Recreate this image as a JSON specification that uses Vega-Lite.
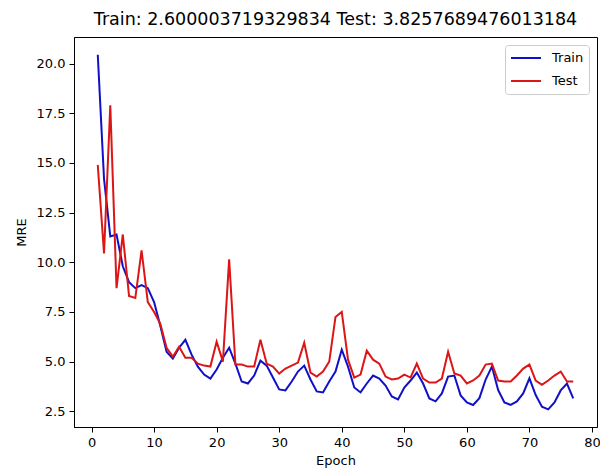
{
 "$schema": "https://vega.github.io/schema/vega-lite/v6.json",
 "width": 523,
 "height": 390,
 "autosize": {"type": "none"},
 "padding": {"left": 74, "top": 37, "right": 3, "bottom": 46},
 "background": "white",
 "title": {"text": "Train: 2.600003719329834 Test: 3.8257689476013184", "font": "DejaVu Sans", "fontSize": 17.5, "fontWeight": "normal", "color": "black", "anchor": "middle", "offset": 9},
 "config": {
  "view": {"stroke": "black", "strokeWidth": 1},
  "axis": {"grid": false, "domainColor": "black", "tickColor": "black", "tickSize": 5, "labelColor": "black", "labelFont": "DejaVu Sans", "labelFontSize": 13, "titleFont": "DejaVu Sans", "titleFontSize": 13, "titleFontWeight": "normal", "titleColor": "black", "labelPadding": 4}
 },
 "data": {"values": [
  {"epoch":1,"series":"Train","mre":20.45},{"epoch":2,"series":"Train","mre":14.2},{"epoch":3,"series":"Train","mre":11.3},{"epoch":4,"series":"Train","mre":11.4},{"epoch":5,"series":"Train","mre":9.8},{"epoch":6,"series":"Train","mre":9.0},{"epoch":7,"series":"Train","mre":8.7},{"epoch":8,"series":"Train","mre":8.85},{"epoch":9,"series":"Train","mre":8.7},{"epoch":10,"series":"Train","mre":8.0},
  {"epoch":11,"series":"Train","mre":6.8},{"epoch":12,"series":"Train","mre":5.5},{"epoch":13,"series":"Train","mre":5.15},{"epoch":14,"series":"Train","mre":5.7},{"epoch":15,"series":"Train","mre":6.1},{"epoch":16,"series":"Train","mre":5.35},{"epoch":17,"series":"Train","mre":4.75},{"epoch":18,"series":"Train","mre":4.35},{"epoch":19,"series":"Train","mre":4.15},{"epoch":20,"series":"Train","mre":4.6},
  {"epoch":21,"series":"Train","mre":5.2},{"epoch":22,"series":"Train","mre":5.7},{"epoch":23,"series":"Train","mre":4.9},{"epoch":24,"series":"Train","mre":4.0},{"epoch":25,"series":"Train","mre":3.9},{"epoch":26,"series":"Train","mre":4.3},{"epoch":27,"series":"Train","mre":5.05},{"epoch":28,"series":"Train","mre":4.8},{"epoch":29,"series":"Train","mre":4.2},{"epoch":30,"series":"Train","mre":3.6},
  {"epoch":31,"series":"Train","mre":3.55},{"epoch":32,"series":"Train","mre":4.0},{"epoch":33,"series":"Train","mre":4.5},{"epoch":34,"series":"Train","mre":4.8},{"epoch":35,"series":"Train","mre":4.1},{"epoch":36,"series":"Train","mre":3.5},{"epoch":37,"series":"Train","mre":3.45},{"epoch":38,"series":"Train","mre":4.0},{"epoch":39,"series":"Train","mre":4.5},{"epoch":40,"series":"Train","mre":5.6},
  {"epoch":41,"series":"Train","mre":4.75},{"epoch":42,"series":"Train","mre":3.7},{"epoch":43,"series":"Train","mre":3.45},{"epoch":44,"series":"Train","mre":3.9},{"epoch":45,"series":"Train","mre":4.3},{"epoch":46,"series":"Train","mre":4.15},{"epoch":47,"series":"Train","mre":3.8},{"epoch":48,"series":"Train","mre":3.25},{"epoch":49,"series":"Train","mre":3.1},{"epoch":50,"series":"Train","mre":3.7},
  {"epoch":51,"series":"Train","mre":4.05},{"epoch":52,"series":"Train","mre":4.45},{"epoch":53,"series":"Train","mre":3.9},{"epoch":54,"series":"Train","mre":3.15},{"epoch":55,"series":"Train","mre":3.0},{"epoch":56,"series":"Train","mre":3.4},{"epoch":57,"series":"Train","mre":4.25},{"epoch":58,"series":"Train","mre":4.3},{"epoch":59,"series":"Train","mre":3.3},{"epoch":60,"series":"Train","mre":2.95},
  {"epoch":61,"series":"Train","mre":2.82},{"epoch":62,"series":"Train","mre":3.16},{"epoch":63,"series":"Train","mre":4.1},{"epoch":64,"series":"Train","mre":4.75},{"epoch":65,"series":"Train","mre":3.57},{"epoch":66,"series":"Train","mre":2.95},{"epoch":67,"series":"Train","mre":2.82},{"epoch":68,"series":"Train","mre":3.0},{"epoch":69,"series":"Train","mre":3.4},{"epoch":70,"series":"Train","mre":4.16},
  {"epoch":71,"series":"Train","mre":3.32},{"epoch":72,"series":"Train","mre":2.73},{"epoch":73,"series":"Train","mre":2.6},{"epoch":74,"series":"Train","mre":2.95},{"epoch":75,"series":"Train","mre":3.55},{"epoch":76,"series":"Train","mre":3.9},{"epoch":77,"series":"Train","mre":3.15},
  {"epoch":1,"series":"Test","mre":14.9},{"epoch":2,"series":"Test","mre":10.45},{"epoch":3,"series":"Test","mre":17.9},{"epoch":4,"series":"Test","mre":8.7},{"epoch":5,"series":"Test","mre":11.4},{"epoch":6,"series":"Test","mre":8.3},{"epoch":7,"series":"Test","mre":8.2},{"epoch":8,"series":"Test","mre":10.6},{"epoch":9,"series":"Test","mre":8.0},{"epoch":10,"series":"Test","mre":7.5},
  {"epoch":11,"series":"Test","mre":6.9},{"epoch":12,"series":"Test","mre":5.7},{"epoch":13,"series":"Test","mre":5.25},{"epoch":14,"series":"Test","mre":5.75},{"epoch":15,"series":"Test","mre":5.2},{"epoch":16,"series":"Test","mre":5.2},{"epoch":17,"series":"Test","mre":4.9},{"epoch":18,"series":"Test","mre":4.8},{"epoch":19,"series":"Test","mre":4.75},{"epoch":20,"series":"Test","mre":6.0},
  {"epoch":21,"series":"Test","mre":5.0},{"epoch":22,"series":"Test","mre":10.15},{"epoch":23,"series":"Test","mre":4.85},{"epoch":24,"series":"Test","mre":4.85},{"epoch":25,"series":"Test","mre":4.75},{"epoch":26,"series":"Test","mre":4.75},{"epoch":27,"series":"Test","mre":6.1},{"epoch":28,"series":"Test","mre":4.9},{"epoch":29,"series":"Test","mre":4.75},{"epoch":30,"series":"Test","mre":4.4},
  {"epoch":31,"series":"Test","mre":4.65},{"epoch":32,"series":"Test","mre":4.8},{"epoch":33,"series":"Test","mre":4.95},{"epoch":34,"series":"Test","mre":5.95},{"epoch":35,"series":"Test","mre":4.45},{"epoch":36,"series":"Test","mre":4.25},{"epoch":37,"series":"Test","mre":4.5},{"epoch":38,"series":"Test","mre":5.0},{"epoch":39,"series":"Test","mre":7.25},{"epoch":40,"series":"Test","mre":7.5},
  {"epoch":41,"series":"Test","mre":5.1},{"epoch":42,"series":"Test","mre":4.2},{"epoch":43,"series":"Test","mre":4.35},{"epoch":44,"series":"Test","mre":5.55},{"epoch":45,"series":"Test","mre":5.1},{"epoch":46,"series":"Test","mre":4.9},{"epoch":47,"series":"Test","mre":4.25},{"epoch":48,"series":"Test","mre":4.1},{"epoch":49,"series":"Test","mre":4.15},{"epoch":50,"series":"Test","mre":4.35},
  {"epoch":51,"series":"Test","mre":4.2},{"epoch":52,"series":"Test","mre":4.9},{"epoch":53,"series":"Test","mre":4.15},{"epoch":54,"series":"Test","mre":3.95},{"epoch":55,"series":"Test","mre":3.95},{"epoch":56,"series":"Test","mre":4.15},{"epoch":57,"series":"Test","mre":5.5},{"epoch":58,"series":"Test","mre":4.4},{"epoch":59,"series":"Test","mre":4.3},{"epoch":60,"series":"Test","mre":3.9},
  {"epoch":61,"series":"Test","mre":4.05},{"epoch":62,"series":"Test","mre":4.3},{"epoch":63,"series":"Test","mre":4.85},{"epoch":64,"series":"Test","mre":4.9},{"epoch":65,"series":"Test","mre":4.05},{"epoch":66,"series":"Test","mre":4.0},{"epoch":67,"series":"Test","mre":4.0},{"epoch":68,"series":"Test","mre":4.3},{"epoch":69,"series":"Test","mre":4.65},{"epoch":70,"series":"Test","mre":4.85},
  {"epoch":71,"series":"Test","mre":4.05},{"epoch":72,"series":"Test","mre":3.83},{"epoch":73,"series":"Test","mre":4.05},{"epoch":74,"series":"Test","mre":4.3},{"epoch":75,"series":"Test","mre":4.5},{"epoch":76,"series":"Test","mre":4.0},{"epoch":77,"series":"Test","mre":4.0}
 ]},
 "mark": {"type": "line", "strokeWidth": 2},
 "encoding": {
  "x": {"field": "epoch", "type": "quantitative", "scale": {"domain": [-2.8, 80.8], "nice": false, "zero": false}, "axis": {"values": [0,10,20,30,40,50,60,70,80], "title": "Epoch", "titlePadding": 5}},
  "y": {"field": "mre", "type": "quantitative", "scale": {"domain": [1.71, 21.34], "nice": false, "zero": false}, "axis": {"values": [2.5,5,7.5,10,12.5,15,17.5,20], "format": ".1f", "title": "MRE", "titlePadding": 8}},
  "color": {"field": "series", "type": "nominal", "scale": {"domain": ["Train", "Test"], "range": ["#1010c8", "#dc1616"]},
   "legend": {"title": null, "orient": "top-right", "offset": 8, "symbolType": "stroke", "symbolStrokeWidth": 2, "symbolSize": 900, "clipHeight": 16, "labelFont": "DejaVu Sans", "labelFontSize": 13, "labelColor": "black", "strokeColor": "#cccccc", "fillColor": "white", "cornerRadius": 3, "padding": 5, "rowPadding": 7, "labelOffset": 10}}
 }
}
